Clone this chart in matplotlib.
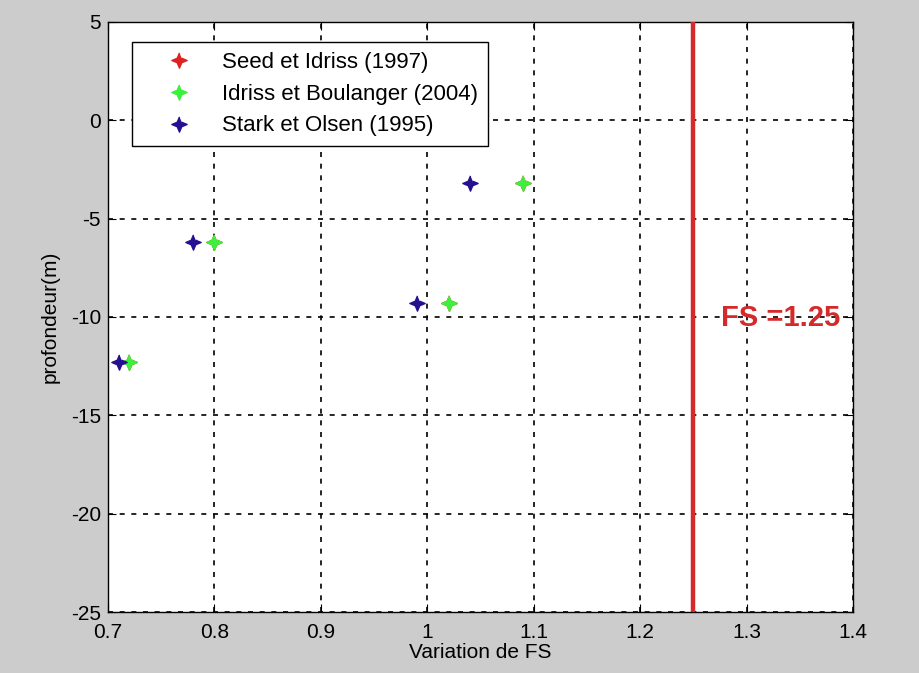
"""
Variation du facteur de sécurité FS en fonction de la profondeur.
"""
import numpy as np
import matplotlib.pyplot as plt

plt.rcParams['font.family'] = ['Liberation Sans', 'DejaVu Sans']
plt.rcParams['axes.unicode_minus'] = False

# profondeurs (m)
profondeur = [-12.3, -6.2, -9.3, -3.2]

# FS par méthode
fs_seed = [0.72, 0.80, 1.02, 1.09]
fs_idriss = [0.72, 0.80, 1.02, 1.09]
fs_stark = [0.71, 0.78, 0.99, 1.04]

fs_limite = 1.25

x_ticks = [0.7, 0.8, 0.9, 1.0, 1.1, 1.2, 1.3, 1.4]
x_labels = ['0.7', '0.8', '0.9', '1', '1.1', '1.2', '1.3', '1.4']
y_ticks = [5, 0, -5, -10, -15, -20, -25]

# marqueur "+" épais (étoile à 4 branches)
ang = np.arange(8) * np.pi / 4 + np.pi / 2
rad = np.where(np.arange(8) % 2 == 0, 1.0, 0.42)
etoile = list(zip(rad * np.cos(ang), rad * np.sin(ang)))

fig = plt.figure(figsize=(9.2, 6.73), dpi=100, facecolor='#cccccc')
ax = fig.add_axes([108 / 920, 1 - 612 / 673, 745 / 920, 590 / 673])
ax.set_facecolor('white')

mk = dict(marker=etoile, linestyle='none', markersize=11, markeredgewidth=1.0)
ax.plot(fs_seed, profondeur, color='#dd2222', label='Seed et Idriss (1997)', **mk)
ax.plot(fs_idriss, profondeur, color='#3cf03c', label='Idriss et Boulanger (2004)', **mk)
ax.plot(fs_stark, profondeur, color='#241090', label='Stark et Olsen (1995)', **mk)

ax.axvline(fs_limite, color='#d42a2a', linewidth=3.2, zorder=3)
ax.text(1.276, -10.05, 'FS =1.25', color='#d42a2a', fontsize=21, fontweight='bold',
        ha='left', va='center', zorder=4)

ax.set_xlim(0.7, 1.4)
ax.set_ylim(-25, 5)
ax.set_xticks(x_ticks)
ax.set_xticklabels(x_labels)
ax.set_yticks(y_ticks)
ax.tick_params(direction='in', top=True, right=True, length=6, labelsize=15,
               colors='black', pad=5)
ax.tick_params(axis='x', pad=8)
ax.grid(True, color='black', linestyle=(0, (3, 4)), linewidth=1.2)
for s in ax.spines.values():
    s.set_linewidth(1.0)
    s.set_color('black')

ax.set_xlabel('Variation de FS', fontsize=15, labelpad=1)
ax.set_ylabel('profondeur(m)', fontsize=15, labelpad=8)

leg = ax.legend(loc='upper left', bbox_to_anchor=(0.032, 0.966), borderaxespad=0,
                fontsize=16, frameon=True, fancybox=False, edgecolor='black',
                framealpha=1, borderpad=0.45, labelspacing=0.48,
                handletextpad=0.3, handlelength=3.3)
leg.get_frame().set_linewidth(1.0)

plt.savefig('out.png', dpi=100, facecolor=fig.get_facecolor())
